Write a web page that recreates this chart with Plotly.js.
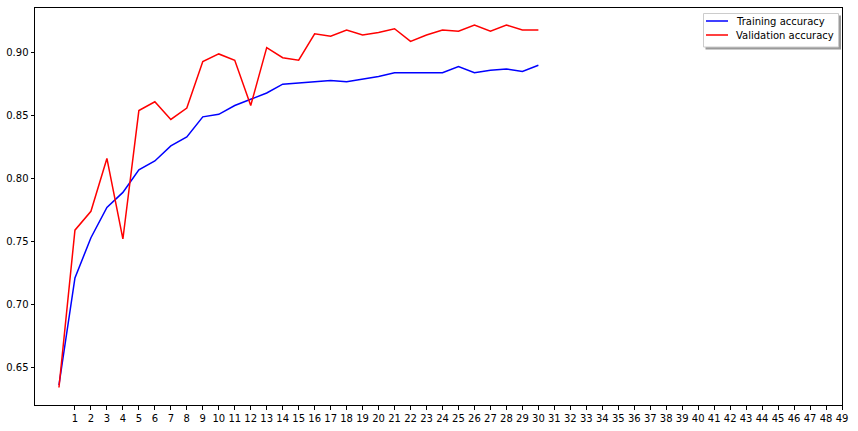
<!DOCTYPE html>
<html><head><meta charset="utf-8">
<script src="https://cdn.plot.ly/plotly-3.0.1.min.js"></script>
<style>body{margin:0;background:#fff}#chart{width:858px;height:431px}</style>
</head><body><div id="chart"></div>
<script>
const epochs = [0,1,2,3,4,5,6,7,8,9,10,11,12,13,14,15,16,17,18,19,20,21,22,23,24,25,26,27,28,29,30];
const trainAcc = [0.636,0.721,0.753,0.777,0.789,0.807,0.814,0.826,0.833,0.849,0.851,0.858,0.863,0.868,0.875,0.876,0.877,0.878,0.877,0.879,0.881,0.884,0.884,0.884,0.884,0.889,0.884,0.886,0.887,0.885,0.890];
const valAcc = [0.634,0.759,0.774,0.816,0.752,0.854,0.861,0.847,0.856,0.893,0.899,0.894,0.858,0.904,0.896,0.894,0.915,0.913,0.918,0.914,0.916,0.919,0.909,0.914,0.918,0.917,0.922,0.917,0.922,0.918,0.918];
const seriesNames = ['Training accuracy','Validation accuracy'];
const seriesColors = ['#0000ff','#ff0000'];
const xTicks = Array.from({length:49},(_,i)=>i+1);
const yTicks = [0.65,0.70,0.75,0.80,0.85,0.90];

const traces = [
  {x: epochs, y: trainAcc, type:'scatter', mode:'lines', name:seriesNames[0], line:{color:seriesColors[0], width:1.5}},
  {x: epochs, y: valAcc, type:'scatter', mode:'lines', name:seriesNames[1], line:{color:seriesColors[1], width:1.5}}
];
// plot area in pixels
const L=35, R=842, T=8, B=405;
const px = X => (X-L)/(R-L);
const py = Y => (B-Y)/(B-T);

const shapes = [
  {type:'rect', xref:'paper', yref:'paper', x0:px(705.5), x1:px(841), y0:py(15.5), y1:py(49.5), fillcolor:'#9a9a9a', line:{width:0}, layer:'above'},
  {type:'rect', xref:'paper', yref:'paper', x0:px(703.5), x1:px(838.5), y0:py(13.5), y1:py(47), fillcolor:'#ffffff', line:{color:'#cccccc', width:1}, layer:'above'},
];
const annotations = [];
const rowY = [21, 35];
seriesNames.forEach((n,i)=>{
  shapes.push({type:'line', xref:'paper', yref:'paper', x0:px(706), x1:px(728), y0:py(rowY[i]), y1:py(rowY[i]), line:{color:seriesColors[i], width:1.5}, layer:'above'});
  annotations.push({xref:'paper', yref:'paper', x:px(735), y:py(rowY[i]), xanchor:'left', yanchor:'middle', text:n, showarrow:false, borderpad:0, font:{family:'DejaVu Sans', size:10, color:'#000'}});
});

const axisBase = {showline:true, linecolor:'#000', linewidth:1, mirror:true, showgrid:false, zeroline:false, ticks:'outside', ticklen:3.5, tickwidth:1, tickcolor:'#000', tickfont:{family:'DejaVu Sans', size:10, color:'#000'}};
const layout = {
  width:858, height:431,
  margin:{l:L, r:858-R, t:T, b:431-B},
  paper_bgcolor:'#fff', plot_bgcolor:'#fff',
  font:{family:'DejaVu Sans', size:10, color:'#000'},
  xaxis: Object.assign({}, axisBase, {range:[-1.5,49], tickmode:'array', tickvals:xTicks, ticktext:xTicks.map(String)}),
  yaxis: Object.assign({}, axisBase, {range:[0.6201,0.9355], tickmode:'array', tickvals:yTicks, ticktext:yTicks.map(v=>v.toFixed(2))}),
  showlegend:false,
  shapes: shapes,
  annotations: annotations
};
Plotly.newPlot('chart', traces, layout, {displayModeBar:false, staticPlot:true});
</script>
</body></html>
